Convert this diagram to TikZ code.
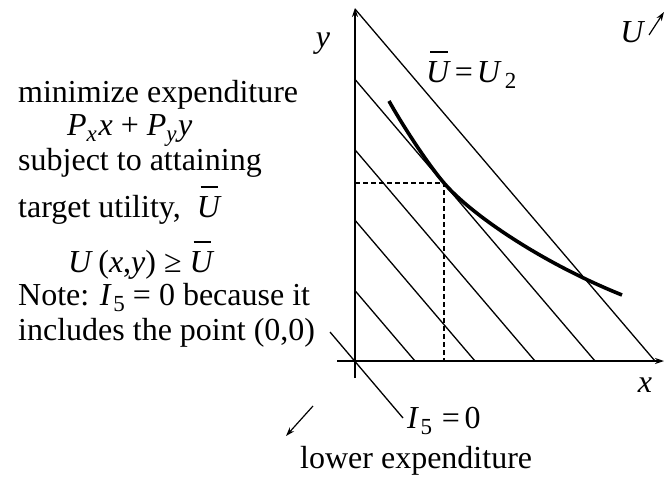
\documentclass[tikz,border=0pt]{standalone}
\usepackage{fontspec}
\setmainfont{Liberation Serif}
\usetikzlibrary{arrows.meta}
\newcommand\sbs[1]{\raisebox{-0.2em}{\fontsize{23}{23}\selectfont #1}}
\newcommand\Ubar{\leavevmode\rlap{\hspace{0.12em}\rule[0.92em]{0.55em}{0.06em}}\textit{U}}
\begin{document}
\begin{tikzpicture}[x=1pt,y=-1pt,
  thinline/.style={line width=1.3pt},
  arr/.style={-{Stealth[length=9pt,width=6pt]}},
  txt/.style={anchor=base west, inner sep=0pt, text height=0.68em, text depth=0.1em, font=\fontsize{32}{38}\selectfont},
  lbl/.style={anchor=base, inner sep=0pt, font=\fontsize{32}{38}\selectfont\itshape}]
\useasboundingbox (0,0) rectangle (666,479);
% axes
\coordinate (O) at (355,361);
\coordinate (ytop) at (355,8);
\coordinate (ybot) at (355,378);
\coordinate (xl) at (337,361);
\coordinate (xr) at (664,361);
\draw[thinline,arr] (ybot) -- (ytop);
\draw[thinline,arr] (xl) -- (xr);
% iso-expenditure lines
\foreach \k in {1,...,5} {
  \coordinate (ya\k) at (355,{361-70.4*\k});
  \coordinate (xa\k) at ({355+60*\k},361);
  \draw[thinline] (ya\k) -- (xa\k);
}
% I5 line through origin
\coordinate (i5a) at (330,332);
\coordinate (i5b) at (403,418);
\draw[thinline] (i5a) -- (i5b);
% dashed lines
\coordinate (T) at (444,183);
\coordinate (Ty) at (355,183);
\coordinate (Tx) at (444,361);
\draw[line width=1.1pt, dash pattern=on 5pt off 3pt] (Ty) -- (T) -- (Tx);
% indifference curve
\coordinate (c0) at (389,101);
\coordinate (c3) at (622,295);
\draw[line width=3.6pt] (c0) .. controls (400,121) and (426,161.9) .. (T)
   .. controls (470,213.5) and (540,262) .. (c3);
% arrows
\coordinate (ua) at (649,35);
\coordinate (ub) at (664,12);
\draw[line width=1.2pt,arr] (ua) -- (ub);
\coordinate (la) at (313,406);
\coordinate (lb) at (286,436);
\draw[line width=1.2pt,arr] (la) -- (lb);
% labels
\node[lbl] (ylab) at (323,47) {y};
\node[lbl] (xlab) at (645,392) {x};
\node[lbl] (ulab) at (632,42) {U};
\node[txt] (ueq) at (426,82) {\Ubar\kern0.12em=\kern0.12em\textit{U}\kern0.1em\sbs{2}};
\node[txt] (i5lab) at (407,428) {\textit{I}\kern0.05em\sbs{5}\kern0.3em=\kern0.15em0};
\node[txt] (lower) at (300,468) {lower expenditure};
% left text
\node[txt] (l1) at (18,102) {minimize expenditure};
\node[txt] (l2) at (67,135) {\textit{P}\sbs{\textit{x}}\kern0.05em\textit{x} + \textit{P}\sbs{\textit{y}}\kern0.05em\textit{y}};
\node[txt] (l3) at (18,170) {subject to attaining};
\node[txt] (l4) at (18,217) {target utility,\enspace\Ubar};
\node[txt] (l5) at (68,272) {\textit{U}\,(\textit{x},\textit{y}) ≥ \Ubar};
\node[txt] (l6) at (18,305) {Note: \textit{I}\kern0.05em\sbs{5} = 0 because it};
\node[txt] (l7) at (18,340) {includes the point (0,0)};
\end{tikzpicture}
\end{document}
